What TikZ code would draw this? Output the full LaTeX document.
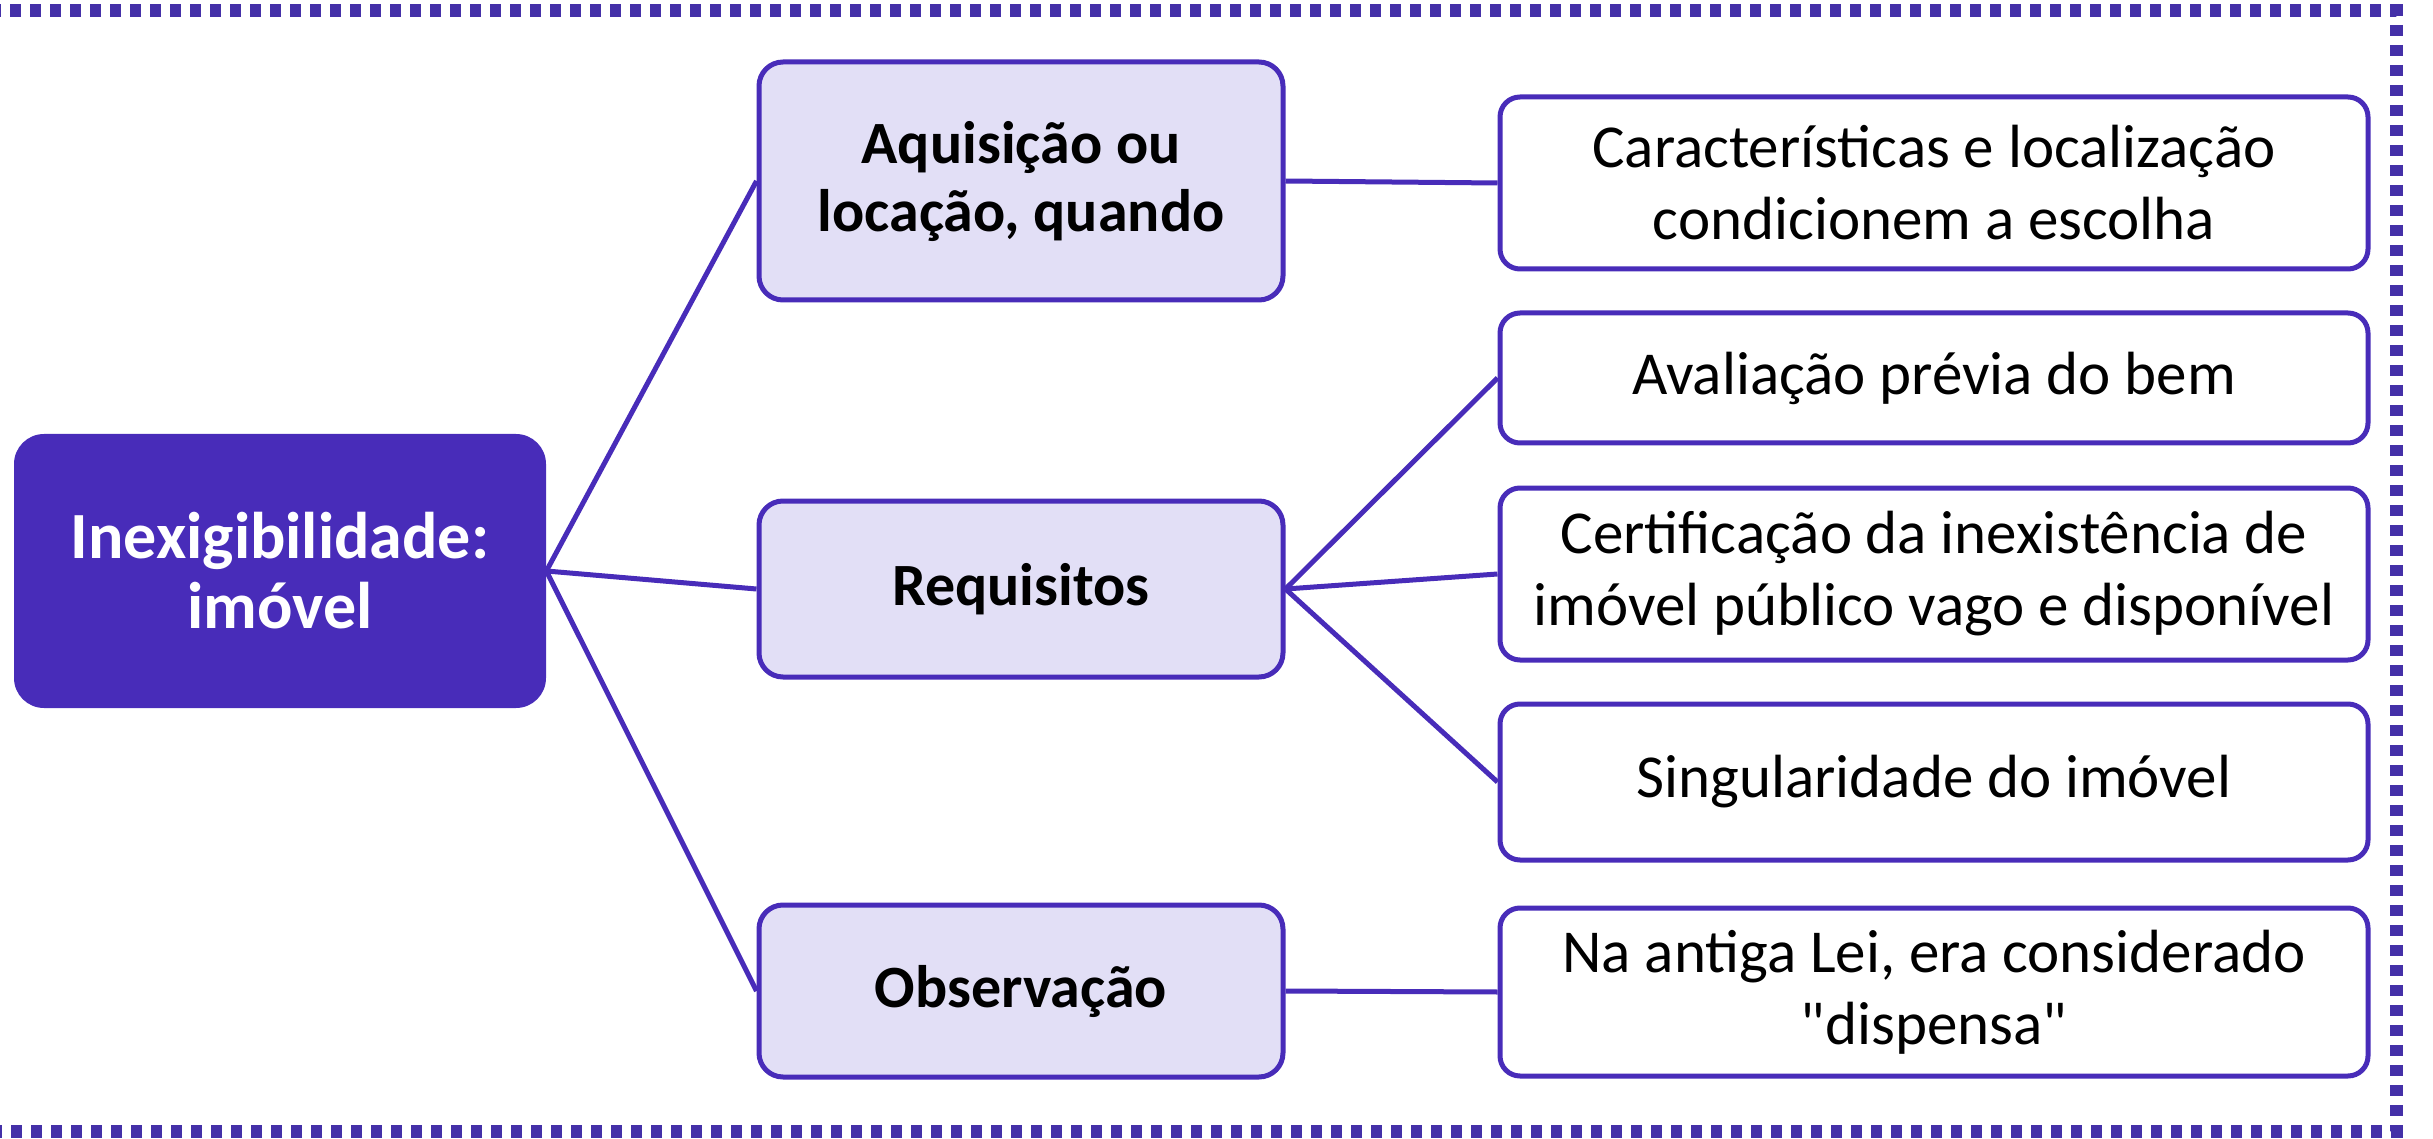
\documentclass[tikz,border=0pt]{standalone}
\usepackage{fontspec}
\setmainfont{Carlito}
\usetikzlibrary{positioning}
\definecolor{roxo}{RGB}{72,44,185}
\definecolor{lilas}{RGB}{226,223,246}
\definecolor{pontos}{RGB}{68,48,168}
\tikzset{
  raiz/.style={rectangle, rounded corners=15pt, fill=roxo, text=white,
    font=\fontsize{33}{35}\selectfont\bfseries, align=center,
    minimum width=266pt, minimum height=137pt},
  ramo/.style={rectangle, rounded corners=12pt, draw=roxo, line width=2.5pt,
    fill=lilas, font=\fontsize{30}{34}\selectfont\bfseries, align=center,
    minimum width=262pt},
  folha/.style={rectangle, rounded corners=10pt, draw=roxo, line width=2.5pt,
    fill=white, font=\fontsize{30.5}{36}\selectfont, align=center,
    minimum width=434pt},
  liga/.style={draw=roxo, line width=2.5pt}
}
\begin{document}
\begin{tikzpicture}[x=0.5pt,y=-0.5pt]
  \useasboundingbox (0,0) rectangle (2433,1139);
  \draw [pontos, line width=6.5pt, dash pattern=on 5.5pt off 4.5pt]
    (-30,11) -- (2396,11) -- (2396,1131) -- (-30,1131);

  \node [raiz] (imovel) at (280,571) {Inexigibilidade:\\imóvel};

  \node [ramo, minimum height=119pt] (aquisicao) at (1021,181) {Aquisição ou\\locação, quando};
  \node [ramo, minimum height=88pt] (requisitos) at (1021,589) {Requisitos};
  \node [ramo, minimum height=86pt] (observacao) at (1021,991) {Observação};

  \node [folha, minimum height=86pt] (caract) at (1934,183) {Características e localização\\condicionem a escolha};
  \node [folha, minimum height=65pt] (avaliacao) at (1934,378) {Avaliação prévia do bem};
  \node [folha, minimum height=86pt] (certif) at (1934,574) {Certificação da inexistência de\\imóvel público vago e disponível};
  \node [folha, minimum height=78pt] (singular) at (1934,782) {Singularidade do imóvel};
  \node [folha, minimum height=84pt] (antiga) at (1934,992) {Na antiga Lei, era considerado\\\textquotedbl dispensa\textquotedbl};

  \draw [liga] (imovel.east) -- (aquisicao.west);
  \draw [liga] (imovel.east) -- (requisitos.west);
  \draw [liga] (imovel.east) -- (observacao.west);
  \draw [liga] (aquisicao.east) -- (caract.west);
  \draw [liga] (requisitos.east) -- (avaliacao.west);
  \draw [liga] (requisitos.east) -- (certif.west);
  \draw [liga] (requisitos.east) -- (singular.west);
  \draw [liga] (observacao.east) -- (antiga.west);
\end{tikzpicture}
\end{document}
